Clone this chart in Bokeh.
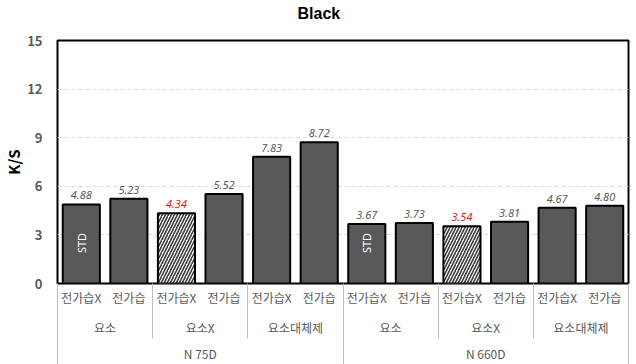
import math
from bokeh.plotting import figure
from bokeh.models import (Range1d, LinearAxis, FixedTicker, ColumnDataSource, Title)
from bokeh.core.properties import value
from bokeh.embed import file_html
from bokeh.resources import INLINE

# ---- data ----
title_text = "Black"
outer_groups = ["N 75D"] * 6 + ["N 660D"] * 6
mid_groups = ["요소", "요소", "요소X", "요소X", "요소대체제", "요소대체제"] * 2
sub_labels = ["전가습X", "전가습"] * 6
ks_values = [4.88, 5.23, 4.34, 5.52, 7.83, 8.72, 3.67, 3.73, 3.54, 3.81, 4.67, 4.80]
hatched = [False, False, True, False, False, False, False, False, True, False, False, False]
std_marks = [True, False, False, False, False, False, True, False, False, False, False, False]
y_ticks = [0, 3, 6, 9, 12, 15]

# ---- styling ----
FONT = "Noto Sans CJK KR"
GRAY_TXT = "#595959"
BAR_FILL = "#595959"
RED = "#e3191c"
SEP = "#bfbfbf"

n = len(ks_values)
xs = [i + 0.5 for i in range(n)]


def runs(labels, parent=None):
    """consecutive runs -> (centre, start, end, label)"""
    out = []
    start = 0
    for i in range(1, len(labels) + 1):
        if i == len(labels) or labels[i] != labels[start] or (
                parent is not None and parent[i] != parent[start]):
            out.append(((start + i) / 2, start, i, labels[start]))
            start = i
    return out


mid_runs = runs(mid_groups, outer_groups)
outer_runs = runs(outer_groups)

p = figure(width=636, height=364, output_backend="svg", toolbar_location=None,
           x_range=Range1d(0, n), y_range=Range1d(0, 15),
           x_axis_type=None, min_border_left=57, min_border_right=8,
           min_border_top=40, min_border_bottom=81)
p.background_fill_color = "white"
p.border_fill_color = "white"
p.outline_line_color = "black"
p.outline_line_width = 2
p.outline_line_alpha = 1.0

# title: a blank second line lifts the title towards the top edge
p.title = Title(text=title_text + "\n ", align="left", offset=240, vertical_align="top",
                text_font="Liberation Sans", text_font_size="16px",
                text_font_style="bold", text_color="black", standoff=0,
                text_line_height=1.0)

# y axis
p.yaxis.ticker = FixedTicker(ticks=y_ticks)
p.yaxis.axis_line_color = None
p.yaxis.major_tick_line_color = None
p.yaxis.minor_tick_line_color = None
p.yaxis.major_label_text_color = GRAY_TXT
p.yaxis.major_label_text_font = FONT
p.yaxis.major_label_text_font_size = "13px"
p.yaxis.major_label_text_font_style = "bold"
p.yaxis.major_label_standoff = 9
p.yaxis.axis_label = "K/S"
p.yaxis.axis_label_text_font = FONT
p.yaxis.axis_label_text_font_size = "15px"
p.yaxis.axis_label_text_font_style = "bold"
p.yaxis.axis_label_text_color = "black"
p.yaxis.axis_label_standoff = 0

p.ygrid.ticker = FixedTicker(ticks=y_ticks)
p.ygrid.grid_line_color = "#d9d9d9"
p.ygrid.grid_line_dash = "4 3"
p.xgrid.grid_line_color = None

# bars
solid_idx = [i for i in range(n) if not hatched[i]]
hatch_idx = [i for i in range(n) if hatched[i]]
src_solid = ColumnDataSource(dict(x=[xs[i] for i in solid_idx], top=[ks_values[i] for i in solid_idx]))
src_hatch = ColumnDataSource(dict(x=[xs[i] for i in hatch_idx], top=[ks_values[i] for i in hatch_idx]))
p.vbar(x="x", top="top", width=0.78, source=src_solid, fill_color=BAR_FILL,
       line_color="black", line_width=2)
p.vbar(x="x", top="top", width=0.78, source=src_hatch, fill_color="white",
       hatch_pattern="/", hatch_color="#3a3a3a", hatch_scale=6, hatch_weight=1.6,
       line_color="black", line_width=2)

# value labels
lab_src = ColumnDataSource(dict(
    x=xs, y=ks_values, t=[f"{v:.2f}" for v in ks_values],
    c=[RED if h else GRAY_TXT for h in hatched]))
p.text(x="x", y="y", text="t", source=lab_src, text_color="c",
       text_align="center", text_baseline="bottom", y_offset=-5,
       text_font=value("Noto Sans"), text_font_style="italic", text_font_size="11px")

# STD marks
std_x = [xs[i] for i in range(n) if std_marks[i]]
p.text(x=std_x, y=[2.5] * len(std_x), text=["STD"] * len(std_x), angle=math.pi / 2,
       text_color="white", text_align="center", text_baseline="middle",
       text_font=value("Noto Sans"), text_font_size="11px")

# multi-level category axes
def cat_axis(ticks, labels, minor, minor_len, standoff):
    ax = LinearAxis(ticker=FixedTicker(ticks=ticks, minor_ticks=minor),
                    major_label_overrides={float(t): l for t, l in zip(ticks, labels)})
    ax.axis_line_color = None
    ax.major_tick_line_color = None
    ax.major_tick_out = 0
    ax.major_tick_in = 0
    ax.minor_tick_line_color = SEP if minor else None
    ax.minor_tick_line_width = 1
    ax.minor_tick_out = minor_len
    ax.minor_tick_in = 0
    ax.major_label_standoff = standoff - minor_len
    ax.major_label_text_font = FONT
    ax.major_label_text_font_size = "12px"
    ax.major_label_text_color = GRAY_TXT
    return ax

mid_bounds = sorted({r[1] for r in mid_runs} | {r[2] for r in mid_runs})
outer_bounds = sorted({r[1] for r in outer_runs} | {r[2] for r in outer_runs})

ax1 = cat_axis(xs, sub_labels, [float(b) for b in mid_bounds], 55, 5)
ax2 = cat_axis([r[0] for r in mid_runs], [r[3] for r in mid_runs],
               [float(b) for b in outer_bounds], 56, 10)
ax3 = cat_axis([r[0] for r in outer_runs], [r[3] for r in outer_runs], [], 0, 6)
p.add_layout(ax1, "below")
p.add_layout(ax2, "below")
p.add_layout(ax3, "below")

open("out.html", "w").write(file_html(p, INLINE))
